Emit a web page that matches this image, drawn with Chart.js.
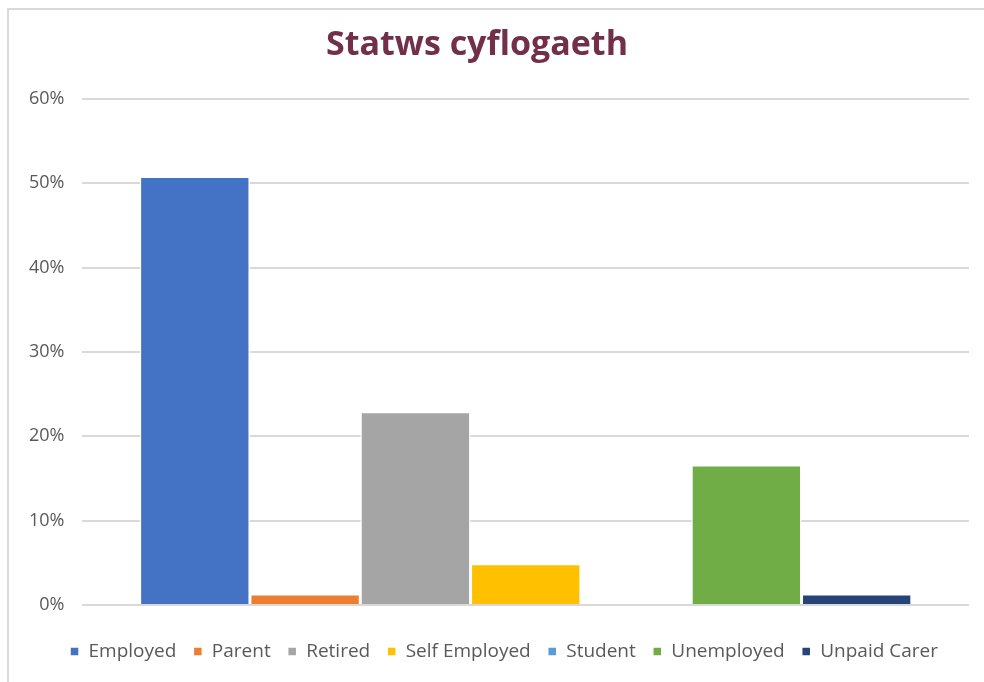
<!DOCTYPE html>
<html>
<head>
<meta charset="utf-8">
<title>Statws cyflogaeth</title>
<script src="https://cdn.jsdelivr.net/npm/chart.js@4.4.1/dist/chart.umd.min.js"></script>
<style>
  html, body { margin: 0; padding: 0; background: #ffffff; }
  .frame {
    position: absolute;
    left: 7px; top: 8px;
    width: 990px; height: 690px;
    border-left: 2px solid #d9d9d9;
    border-top: 2px solid #d9d9d9;
  }
  .chart-box { position: absolute; left: 0; top: 0; width: 984px; height: 682px; }
</style>
</head>
<body>
<div class="frame"></div>
<div class="chart-box"><canvas id="employmentChart"></canvas></div>
<script>
// Datos del gráfico
const categories = [''];
const seriesNames = ['Employed', 'Parent', 'Retired', 'Self Employed', 'Student', 'Unemployed', 'Unpaid Carer'];
const seriesValues = [50.8, 1.3, 22.9, 4.9, 0, 16.6, 1.3];
const seriesColors = ['#4472c4', '#ed7d31', '#a5a5a5', '#ffc000', '#5b9bd5', '#70ad47', '#264478'];
const yTicks = [0, 10, 20, 30, 40, 50, 60];

const datasets = seriesNames.map((name, i) => ({
  label: name,
  data: [seriesValues[i]],
  backgroundColor: seriesColors[i],
  borderColor: '#ffffff',
  borderWidth: 1.5
}));

// Pequeño ajuste horizontal del título y la leyenda
const shiftBoxes = {
  id: 'shiftBoxes',
  afterLayout(chart) {
    chart.titleBlock.left -= 13;
    chart.titleBlock.right -= 13;
    chart.legend.left += 14;
    chart.legend.right += 14;
  }
};

const ctx = document.getElementById('employmentChart').getContext('2d');
new Chart(ctx, {
  type: 'bar',
  data: { labels: categories, datasets },
  plugins: [shiftBoxes],
  options: {
    responsive: true,
    maintainAspectRatio: false,
    animation: false,
    datasets: {
      bar: { barPercentage: 1, categoryPercentage: 0.871 }
    },
    layout: { padding: { left: 11, right: 15, top: 14, bottom: 11 } },
    plugins: {
      title: {
        display: true,
        text: 'Statws cyflogaeth',
        color: '#722f4a',
        font: { family: 'Open Sans', size: 34, weight: 'bold' },
        padding: { top: 11, bottom: 33 }
      },
      legend: {
        position: 'bottom',
        labels: {
          color: '#595959',
          font: { family: 'Open Sans', size: 19 },
          usePointStyle: true,
          pointStyle: 'rect',
          boxWidth: 9,
          boxHeight: 9,
          padding: 17
        }
      },
      tooltip: { enabled: false }
    },
    scales: {
      x: {
        ticks: { display: false },
        grid: { display: false },
        border: { display: false },
        afterFit: s => { s.height = 20; }
      },
      y: {
        min: 0,
        max: 60,
        afterBuildTicks: axis => { axis.ticks = yTicks.map(v => ({ value: v })); },
        ticks: {
          color: '#595959',
          font: { family: 'Open Sans', size: 18 },
          padding: 18,
          callback: v => v + '%'
        },
        grid: { color: '#d9d9d9', lineWidth: 2, drawTicks: false },
        border: { display: false }
      }
    }
  }
});
</script>
</body>
</html>
